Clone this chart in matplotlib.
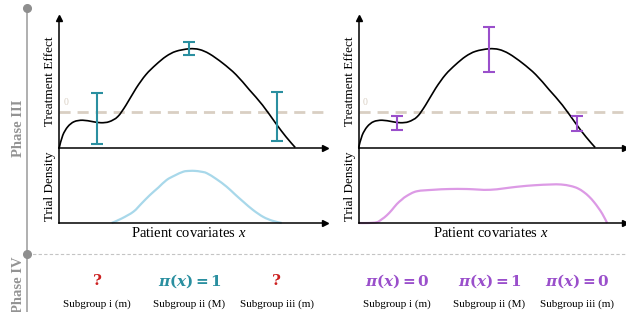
import numpy as np
import matplotlib
matplotlib.use('Agg')
import matplotlib.pyplot as plt
from matplotlib import transforms
from matplotlib.path import Path
from matplotlib.patches import PathPatch

plt.rcParams['mathtext.fontset'] = 'custom'
plt.rcParams['mathtext.rm'] = 'Liberation Serif'
plt.rcParams['mathtext.it'] = 'Liberation Serif:italic'
plt.rcParams['mathtext.bf'] = 'DejaVu Serif:bold'
plt.rcParams['mathtext.bfit'] = 'DejaVu Serif:italic:bold'

SERIF = 'Liberation Serif'

# ---------------- data ----------------
effect_x = [0, 1.3, 3.2, 5.6, 8.8, 12.6, 15.7, 18.8, 22.0, 25.1, 28.9, 32.6, 36.4,
            40.2, 43.9, 48.9, 52.7, 56.5, 61.5, 66.5, 71.5, 76.5, 81.5, 85.3, 88.8]
effect_y = [-1.0, -0.66, -0.42, -0.28, -0.24, -0.28, -0.31, -0.28, -0.14, 0.18, 0.65,
            1.03, 1.31, 1.54, 1.68, 1.75, 1.73, 1.61, 1.35, 1.03, 0.61, 0.18, -0.33,
            -0.70, -1.0]

left_err_x = [14.2, 48.9, 81.9]
left_err_lo = [-0.89, 1.59, -0.82]
left_err_hi = [0.51, 1.93, 0.56]

right_err_x = [14.3, 49.0, 82.0]
right_err_lo = [-0.52, 1.11, -0.54]
right_err_hi = [-0.12, 2.35, -0.13]

dens_left_x = [19.7, 23.5, 27.9, 31.0, 34.1, 37.3, 40.4, 43.5, 46.7, 49.0, 51.1, 53.3,
               55.5, 59.2, 63.0, 66.1, 69.3, 73.0, 76.8, 80.2, 83.7]
dens_left_y = [0.0, 0.06, 0.15, 0.26, 0.37, 0.47, 0.57, 0.63, 0.68, 0.69, 0.69, 0.68,
               0.66, 0.58, 0.48, 0.38, 0.28, 0.17, 0.08, 0.03, 0.0]

dens_right_x = [0, 3.5, 6.8, 8.7, 10.5, 12.4, 14.3, 16.2, 18.1, 21.8, 28.1, 34.0, 40.6,
                49.4, 59.5, 66.0, 72.0, 76.0, 79.6, 82.2, 84.5, 86.5, 88.3, 90.0, 91.5, 93.3]
dens_right_y = [0.0, 0.0, 0.01, 0.05, 0.10, 0.17, 0.25, 0.31, 0.36, 0.42, 0.44, 0.45, 0.45,
                0.44, 0.48, 0.50, 0.51, 0.51, 0.49, 0.46, 0.41, 0.35, 0.28, 0.20, 0.12, 0.0]

left_labels = ['?', r'$\mathbfit{\pi}\mathbf{(}\mathbfit{x}\mathbf{)=1}$', '?']
right_labels = [r'$\mathbfit{\pi}\mathbf{(}\mathbfit{x}\mathbf{)=0}$',
                r'$\mathbfit{\pi}\mathbf{(}\mathbfit{x}\mathbf{)=1}$',
                r'$\mathbfit{\pi}\mathbf{(}\mathbfit{x}\mathbf{)=0}$']
left_label_colors = ['#cc2020', '#2a8fa0', '#cc2020']
subgroups = ['Subgroup i (m)', 'Subgroup ii (M)', 'Subgroup iii (m)']

TEAL = '#2a8fa0'
PURPLE = '#9a4fcb'
DENS_L = '#a8d8ea'
DENS_R = '#dc9ae5'
ZERO_C = '#d9cfc3'

W, H = 626, 312
fig = plt.figure(figsize=(W / 100, H / 100), dpi=100)


def box(l, t, r, b):
    return [l / W, 1 - b / H, (r - l) / W, (b - t) / H]


def smooth_path(xs, ys):
    """Catmull-Rom curve through the given points, drawn as cubic Bezier segments."""
    p = np.column_stack([xs, ys]).astype(float)
    n = len(p)
    verts = [p[0]]
    codes = [Path.MOVETO]
    for i in range(n - 1):
        p0 = p[i - 1] if i > 0 else p[i]
        p1, p2 = p[i], p[i + 1]
        p3 = p[i + 2] if i + 2 < n else p[i + 1]
        c1 = p1 + (p2 - p0) / 6.0
        c2 = p2 - (p3 - p1) / 6.0
        verts += [c1, c2, p2]
        codes += [Path.CURVE4] * 3
    return Path(verts, codes)


# overlay for timeline
ax0 = fig.add_axes([0, 0, 1, 1], zorder=0)
ax0.set_xlim(0, W)
ax0.set_ylim(H, 0)
ax0.axis('off')
ax0.plot([27, 27], [8, 312], color='#a9a9a9', lw=1.3, solid_capstyle='butt')
ax0.plot([27, W], [253.5, 253.5], color='#c4c4c4', lw=0.8, dashes=(3, 2))
ax0.plot([27, 27], [8, 253.5], 'o', color='#8e8e8e', ms=5.5)
ax0.text(18, 128, 'Phase III', rotation=90, ha='center', va='center', color='#939393',
         fontsize=10.5, fontweight='bold', family=SERIF)
ax0.text(18, 256, 'Phase IV', rotation=90, ha='center', va='top', color='#939393',
         fontsize=10.5, fontweight='bold', family=SERIF)


def style(ax, yarrow):
    for s in ['top', 'right']:
        ax.spines[s].set_visible(False)
    for s in ['left', 'bottom']:
        ax.spines[s].set_linewidth(1.1)
        ax.spines[s].set_color('black')
    ax.set_xticks([])
    ax.set_yticks([])
    ax.patch.set_alpha(0)
    ax.plot(1, 0, '>', color='black', ms=4.5, transform=ax.transAxes, clip_on=False)
    if yarrow:
        ax.plot(0, 1, '^', color='black', ms=4.5, transform=ax.transAxes, clip_on=False)


def panel(left, right, err_x, err_lo, err_hi, ecol, dx, dy, dcol, xlab_frac):
    axT = fig.add_axes(box(left, 18.3, right, 147.5), zorder=2)
    axB = fig.add_axes(box(left, 147.5, right, 223), zorder=2)
    axT.set_xlim(0, 100)
    axT.set_ylim(-1.0, 2.6)
    axB.set_xlim(0, 100)
    axB.set_ylim(0, 1)
    style(axT, True)
    style(axB, False)
    axT.axhline(0, color=ZERO_C, lw=2.0, dashes=(4, 2.5), zorder=1)
    axT.text(1.5, 0.12, '0', color=ZERO_C, fontsize=7, family=SERIF, ha='left', va='bottom')
    axT.add_patch(PathPatch(smooth_path(effect_x, effect_y), facecolor='none',
                            edgecolor='black', lw=1.2, zorder=3, clip_on=False))
    lo = np.array(err_lo)
    hi = np.array(err_hi)
    axT.errorbar(err_x, (lo + hi) / 2, yerr=(hi - lo) / 2, fmt='none', ecolor=ecol,
                 elinewidth=1.5, capsize=4.5, capthick=1.5, zorder=4)
    axB.add_patch(PathPatch(smooth_path(dx, dy), facecolor='none', edgecolor=dcol,
                            lw=1.6, clip_on=False))
    axT.set_ylabel('Treatment Effect', family=SERIF, fontsize=9.5)
    axT.yaxis.set_label_coords(-0.012, 0.51)
    axB.set_ylabel('Trial Density', family=SERIF, fontsize=9.5)
    axB.yaxis.set_label_coords(-0.012, 0.49)
    axB.text(xlab_frac, -0.13, 'Patient covariates $x$', transform=axB.transAxes,
             family=SERIF, fontsize=10.5, ha='center', va='center')
    return axT


axL = panel(59.3, 325, left_err_x, left_err_lo, left_err_hi, TEAL,
            dens_left_x, dens_left_y, DENS_L, 0.486)
axR = panel(358.7, 625, right_err_x, right_err_lo, right_err_hi, PURPLE,
            dens_right_x, dens_right_y, DENS_R, 0.497)

trL = transforms.blended_transform_factory(axL.transData, fig.transFigure)
trR = transforms.blended_transform_factory(axR.transData, fig.transFigure)
for x, lab, c, sg in zip(left_err_x, left_labels, left_label_colors, subgroups):
    kw = dict(fontweight='bold', family='DejaVu Serif') if lab == '?' else {}
    fig.text(x, 1 - 281 / H, lab, transform=trL, color=c, fontsize=11, ha='center',
             va='center', **kw)
    fig.text(x, 1 - 304 / H, sg, transform=trL, fontsize=8, family=SERIF, ha='center',
             va='center')
for x, lab, sg in zip(right_err_x, right_labels, subgroups):
    fig.text(x, 1 - 281 / H, lab, transform=trR, color=PURPLE, fontsize=11, ha='center',
             va='center')
    fig.text(x, 1 - 304 / H, sg, transform=trR, fontsize=8, family=SERIF, ha='center',
             va='center')

fig.savefig('out.png', dpi=100)
